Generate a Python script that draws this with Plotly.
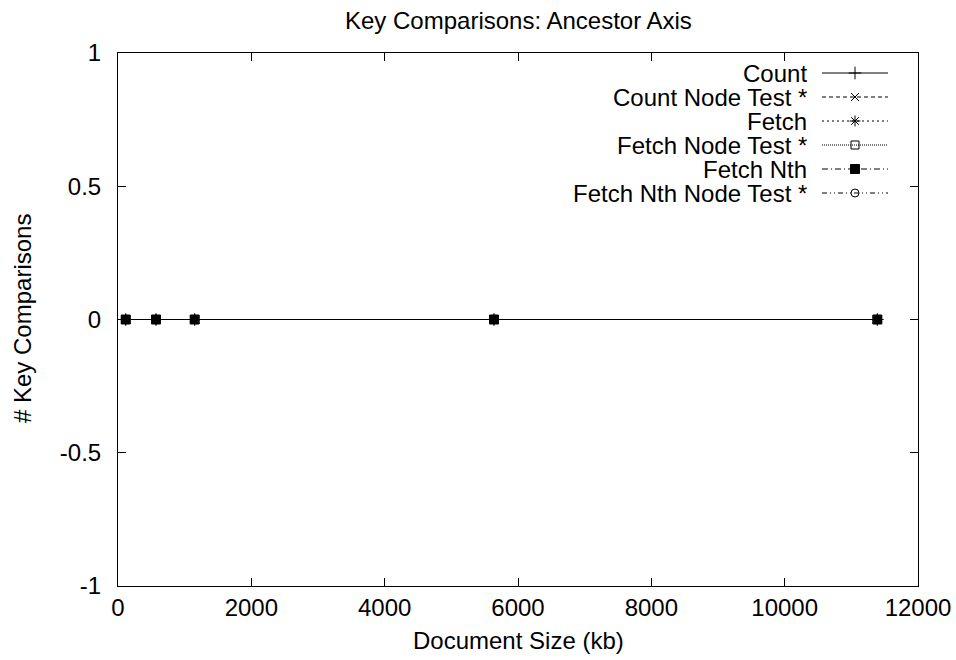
import plotly.graph_objects as go

doc_size_kb = [116, 570, 1150, 5640, 11390]
series_names = ["Count", "Count Node Test *", "Fetch", "Fetch Node Test *",
                "Fetch Nth", "Fetch Nth Node Test *"]
series_values = [
    [0, 0, 0, 0, 0],
    [0, 0, 0, 0, 0],
    [0, 0, 0, 0, 0],
    [0, 0, 0, 0, 0],
    [0, 0, 0, 0, 0],
    [0, 0, 0, 0, 0],
]
x_ticks = [0, 2000, 4000, 6000, 8000, 10000, 12000]
y_ticks = [-1, -0.5, 0, 0.5, 1]
y_tick_labels = ["-1", "-0.5", "0", "0.5", "1"]

styles = [
    dict(dash="solid", symbol="cross-thin-open", size=9),
    dict(dash="4px,3px", symbol="x-thin-open", size=8),
    dict(dash="2px,3px", symbol="asterisk-open", size=9),
    dict(dash="1px,1px", symbol="square-open", size=8),
    dict(dash="6px,3px,1px,3px", symbol="square", size=9),
    dict(dash="5px,3px,1px,3px,1px,3px", symbol="circle-open", size=8),
]

FONT = "Liberation Sans, Arial, Helvetica, sans-serif"
FS = 24
fig = go.Figure()

for name, vals, st in zip(series_names, series_values, styles):
    fig.add_trace(go.Scatter(
        x=doc_size_kb, y=vals, name=name, mode="lines+markers",
        line=dict(color="black", width=1, dash=st["dash"]),
        marker=dict(symbol=st["symbol"], size=st["size"], color="black",
                    line=dict(color="black", width=1)),
        showlegend=False,
    ))

# custom gnuplot-style legend (text right-aligned, sample on the right)
L, R, T, B = 118, 918, 53, 586
row0, row_gap = 73, 24
for i, (name, st) in enumerate(zip(series_names, styles)):
    yy = row0 + row_gap * i
    fig.add_trace(go.Scatter(
        x=[822, 888], y=[yy, yy], xaxis="x2", yaxis="y2", mode="lines",
        line=dict(color="black", width=1, dash=st["dash"]),
        showlegend=False, hoverinfo="skip",
    ))
    fig.add_trace(go.Scatter(
        x=[855], y=[yy], xaxis="x2", yaxis="y2", mode="markers",
        marker=dict(symbol=st["symbol"], size=st["size"], color="black",
                    line=dict(color="black", width=1)),
        showlegend=False, hoverinfo="skip",
    ))
    fig.add_annotation(x=808, y=yy, xref="x2", yref="y2", text=name,
                       showarrow=False, xanchor="right", yanchor="middle",
                       height=23, valign="middle", borderpad=0,
                       font=dict(family=FONT, size=FS, color="black"))

axis_common = dict(
    showline=True, linecolor="black", linewidth=1, mirror="allticks",
    ticks="inside", ticklen=8, tickcolor="black", tickwidth=1,
    showgrid=False, zeroline=False, automargin=False,
    tickfont=dict(family=FONT, size=FS, color="black"),
)

fig.update_layout(
    width=956, height=660,
    paper_bgcolor="white", plot_bgcolor="white",
    margin=dict(l=L, r=956 - R, t=T, b=660 - B, autoexpand=False),
    xaxis=dict(range=[0, 12000], tickvals=x_ticks,
               ticktext=[str(v) for v in x_ticks], ticklabelstandoff=0,
               **axis_common),
    yaxis=dict(range=[-1, 1], tickvals=y_ticks, ticktext=y_tick_labels,
               ticklabelstandoff=11, **axis_common),
    xaxis2=dict(range=[L, R], overlaying="x", visible=False, fixedrange=True),
    yaxis2=dict(range=[B, T], overlaying="y", visible=False, fixedrange=True),
    showlegend=False,
)

# titles (gnuplot centres them over the plot area)
fig.add_annotation(text="Key Comparisons: Ancestor Axis", xref="paper", yref="paper",
                   x=0.5, y=(B - 20) / (B - T), showarrow=False,
                   xanchor="center", yanchor="middle",
                   font=dict(family=FONT, size=FS, color="black"))
fig.add_annotation(text="Document Size (kb)", xref="paper", yref="paper",
                   x=0.5, y=(B - 640) / (B - T), showarrow=False,
                   xanchor="center", yanchor="middle",
                   font=dict(family=FONT, size=FS, color="black"))
fig.add_annotation(text="# Key Comparisons", xref="paper", yref="paper",
                   x=(22 - L) / (R - L), y=(B - 319) / (B - T), showarrow=False,
                   xanchor="center", yanchor="middle", textangle=-90,
                   font=dict(family=FONT, size=FS, color="black"))

fig.write_html("out.html",
               config={"displayModeBar": False},
               post_script="document.body.style.margin='0px';"
                           "document.body.style.overflow='hidden';")
